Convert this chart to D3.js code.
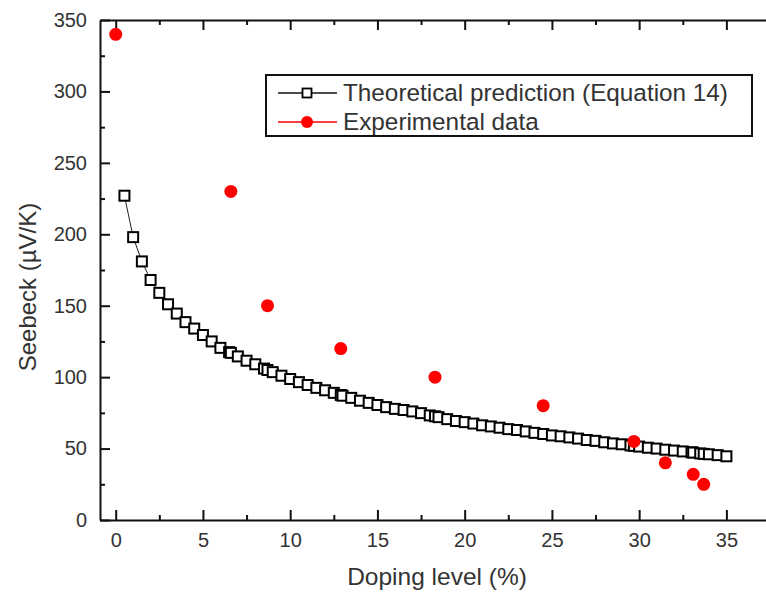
<!DOCTYPE html>
<html><head><meta charset="utf-8">
<script src="https://cdn.jsdelivr.net/npm/d3@7"></script>
<style>
body{margin:0;background:#fff;}
svg{display:block;font-family:"Liberation Sans",Arial,sans-serif;}
</style></head>
<body><svg id="c" width="766" height="593"></svg>
<script>
// Theoretical prediction (Equation 14): doping level (%) and Seebeck (µV/K)
const theoryX = [0.5,1,1.5,2,2.5,3,3.5,4,4.5,5,5.5,6,6.5,6.6,7,7.5,8,8.5,8.7,9,9.5,10,10.5,11,11.5,12,12.5,12.9,13,13.5,14,14.5,15,15.5,16,16.5,17,17.5,18,18.3,18.5,19,19.5,20,20.5,21,21.5,22,22.5,23,23.5,24,24.5,25,25.5,26,26.5,27,27.5,28,28.5,29,29.5,29.7,30,30.5,31,31.5,32,32.5,33,33.1,33.5,33.7,34,34.5,35];
const theoryY = [227,198,181,168,159,151,144.5,138.5,134,129.5,125,120.5,117.5,117,114.5,111.5,109,106,105,103.5,101,98.7,96.5,94.5,92.5,90.8,89,87.5,87,85.5,83.5,82,80.5,79,77.8,77,76,74.8,73.2,72.6,72,70.6,69.3,68.5,67.5,66.3,65.5,64.6,63.6,63,62,61,60.2,59.2,58.6,57.8,57,56,55.4,54.4,53.6,53,52.2,51.9,51.4,50.6,50,49.2,48.6,48,47.4,47.2,46.6,46.3,46,45.4,44.6];
// Experimental data
const expX = [0,6.6,8.7,12.9,18.3,24.5,29.7,31.5,33.1,33.7];
const expY = [340,230,150,120,100,80,55,40,32,25];
const xTicks = [0,5,10,15,20,25,30,35];
const yTicks = [0,50,100,150,200,250,300,350];
const seriesNames = ["Theoretical prediction (Equation 14)","Experimental data"];
const xTitle = "Doping level (%)";
const yTitle = "Seebeck (\u00B5V/K)";

const svg = d3.select("#c");
const L=100, T=20, B=520, R=766;
const x = d3.scaleLinear().domain([-0.9,37.27]).range([L,R]);
const y = d3.scaleLinear().domain([0,350]).range([B,T]);
const txt = "#333";

// minor ticks
const xMinor = d3.range(2.5,37,5);
const yMinor = d3.range(25,350,50);
svg.append("g").attr("transform",`translate(0,${B})`)
  .call(d3.axisBottom(x).tickValues(xMinor).tickSize(-5).tickFormat(""))
  .call(g=>g.select(".domain").remove());
svg.append("g").attr("transform",`translate(0,${T})`)
  .call(d3.axisTop(x).tickValues(xMinor).tickSize(-5).tickFormat(""))
  .call(g=>g.select(".domain").remove());
svg.append("g").attr("transform",`translate(${L},0)`)
  .call(d3.axisLeft(y).tickValues(yMinor).tickSize(-5).tickFormat(""))
  .call(g=>g.select(".domain").remove());

const xa = svg.append("g").attr("transform",`translate(0,${B})`)
  .call(d3.axisBottom(x).tickValues(xTicks).tickSizeInner(-10).tickSizeOuter(0).tickPadding(13));
const xt = svg.append("g").attr("transform",`translate(0,${T})`)
  .call(d3.axisTop(x).tickValues(xTicks).tickSizeInner(-10).tickSizeOuter(0).tickFormat(""));
const ya = svg.append("g").attr("transform",`translate(${L},0)`)
  .call(d3.axisLeft(y).tickValues(yTicks).tickSizeInner(-10).tickSizeOuter(0).tickPadding(13));

svg.selectAll(".tick line").attr("stroke","#111").attr("stroke-width",2);
svg.selectAll(".domain").attr("stroke","#111").attr("stroke-width",2);
svg.selectAll(".tick text").attr("font-size",20).attr("fill",txt).attr("font-family","Liberation Sans, Arial, sans-serif");

// titles
svg.append("text").attr("x",437).attr("y",585).attr("text-anchor","middle")
  .attr("font-size",24.5).attr("fill",txt).text(xTitle);
svg.append("text").attr("transform","translate(36,287) rotate(-90)").attr("text-anchor","middle")
  .attr("font-size",24).attr("fill",txt).text(yTitle);

// theory line + squares
const tdata = theoryX.map((d,i)=>[d,theoryY[i]]);
svg.append("path").datum(tdata)
  .attr("d",d3.line().x(d=>x(d[0])).y(d=>y(d[1])))
  .attr("fill","none").attr("stroke","#222").attr("stroke-width",1);
const sq=10;
svg.append("g").selectAll("rect").data(tdata).join("rect")
  .attr("x",d=>x(d[0])-sq/2).attr("y",d=>y(d[1])-sq/2)
  .attr("width",sq).attr("height",sq)
  .attr("fill","#fff").attr("stroke","#000").attr("stroke-width",2);

// experimental points
const edata = expX.map((d,i)=>[d,expY[i]]);
svg.append("g").selectAll("circle").data(edata).join("circle")
  .attr("cx",d=>x(d[0])).attr("cy",d=>y(d[1])).attr("r",6.5).attr("fill","#ff0000");

// legend
const lg = svg.append("g");
lg.append("rect").attr("x",266).attr("y",75).attr("width",486).attr("height",61)
  .attr("fill","#fff").attr("stroke","#111").attr("stroke-width",2);
const rows=[93,122];
lg.append("line").attr("x1",278).attr("x2",337).attr("y1",rows[0]).attr("y2",rows[0]).attr("stroke","#111").attr("stroke-width",1.5);
lg.append("rect").attr("x",302.5).attr("y",rows[0]-4.5).attr("width",9).attr("height",9).attr("fill","#fff").attr("stroke","#000").attr("stroke-width",1.8);
lg.append("line").attr("x1",278).attr("x2",337).attr("y1",rows[1]).attr("y2",rows[1]).attr("stroke","#ff0000").attr("stroke-width",1.5);
lg.append("circle").attr("cx",307).attr("cy",rows[1]).attr("r",6).attr("fill","#ff0000");
seriesNames.forEach((n,i)=>{
  lg.append("text").attr("x",343).attr("y",rows[i]+8).attr("font-size",24.3).attr("fill",txt).text(n);
});
</script></body></html>
